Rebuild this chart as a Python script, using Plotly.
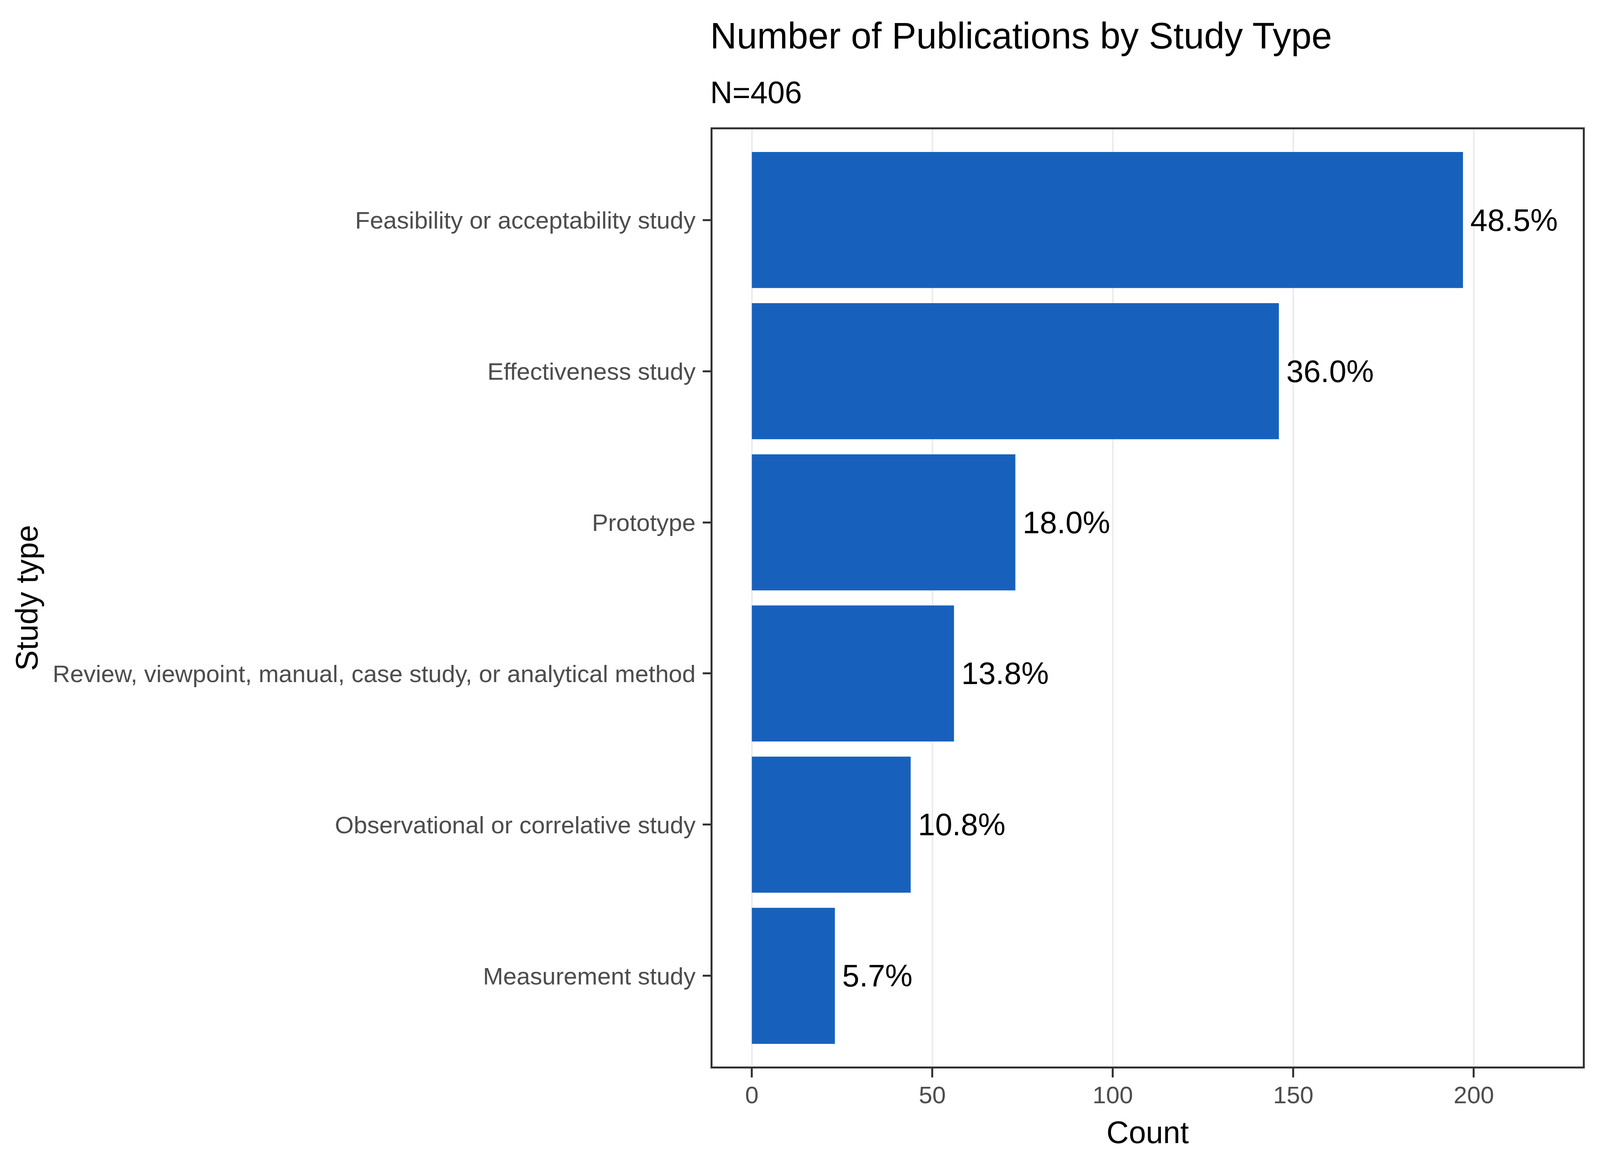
import plotly.graph_objects as go

categories = [
    "Feasibility or acceptability study",
    "Effectiveness study",
    "Prototype",
    "Review, viewpoint, manual, case study, or analytical method",
    "Observational or correlative study",
    "Measurement study",
]
counts = [197, 146, 73, 56, 44, 23]
pct_labels = ["48.5%", "36.0%", "18.0%", "13.8%", "10.8%", "5.7%"]
x_ticks = [0, 50, 100, 150, 200]

FONT = "Liberation Sans"
BAR = "#1761BD"

# the browser viewport is 4096x3000; lay the 4800x3000 design out in it
W, H = 4096, 3000
SX = W / 4800.0
L, R, T, B = round(2137 * SX), round(52 * SX), 331, 270
F_TITLE = round(110 * SX)
F_MED = round(92 * SX)
F_TICK = round(73 * SX)

fig = go.Figure()
fig.add_trace(go.Bar(
    x=counts, y=categories, orientation="h",
    marker=dict(color=BAR, line=dict(width=0)),
    width=0.9, showlegend=False, hoverinfo="x+y",
))

for c, v, lab in zip(categories, counts, pct_labels):
    fig.add_annotation(
        x=v, y=c, xref="x", yref="y", text=lab, showarrow=False,
        xanchor="left", yanchor="middle", xshift=round(20 * SX),
        font=dict(family=FONT, size=F_MED, color="black"),
    )

ph = H - T - B
def ypaper(Y):
    return (H - B - Y) / ph

fig.add_annotation(
    x=0, y=ypaper(92), xref="paper", yref="paper", xanchor="left", yanchor="middle",
    text="Number of Publications by Study Type", showarrow=False, xshift=-8,
    font=dict(family=FONT, size=F_TITLE, color="black"),
)
fig.add_annotation(
    x=0, y=ypaper(236), xref="paper", yref="paper", xanchor="left", yanchor="middle",
    text="N=406", showarrow=False, xshift=-8,
    font=dict(family=FONT, size=F_MED, color="black"),
)

fig.update_layout(
    width=W, height=H,
    margin=dict(l=L, r=R, t=T, b=B, pad=0),
    paper_bgcolor="white", plot_bgcolor="white",
    font=dict(family=FONT),
    xaxis=dict(
        range=[-10.9, 230.2],
        tickvals=x_ticks, ticktext=[str(v) for v in x_ticks],
        showgrid=True, gridcolor="#EBEBEB", gridwidth=4,
        zeroline=False,
        ticks="outside", ticklen=23, tickwidth=4.5, tickcolor="#333333",
        tickfont=dict(family=FONT, size=F_TICK, color="#4D4D4D"),
        ticklabelstandoff=-8,
        showline=True, linecolor="#333333", linewidth=4.5, mirror=True,
        title=dict(text="Count", font=dict(family=FONT, size=F_MED, color="black"), standoff=36),
    ),
    yaxis=dict(
        categoryorder="array", categoryarray=categories[::-1],
        range=[-0.6, 5.6],
        showgrid=False, zeroline=False,
        ticks="outside", ticklen=round(23 * SX), tickwidth=4.5, tickcolor="#333333",
        tickfont=dict(family=FONT, size=F_TICK, color="#4D4D4D"),
        ticklabelstandoff=6,
        showline=True, linecolor="#333333", linewidth=4.5, mirror=True,
        title=dict(text="Study type", font=dict(family=FONT, size=F_MED, color="black"), standoff=14),
    ),
)

fig.write_html("out.html", config={"displayModeBar": False},
               post_script="document.body.style.margin='0px';")
